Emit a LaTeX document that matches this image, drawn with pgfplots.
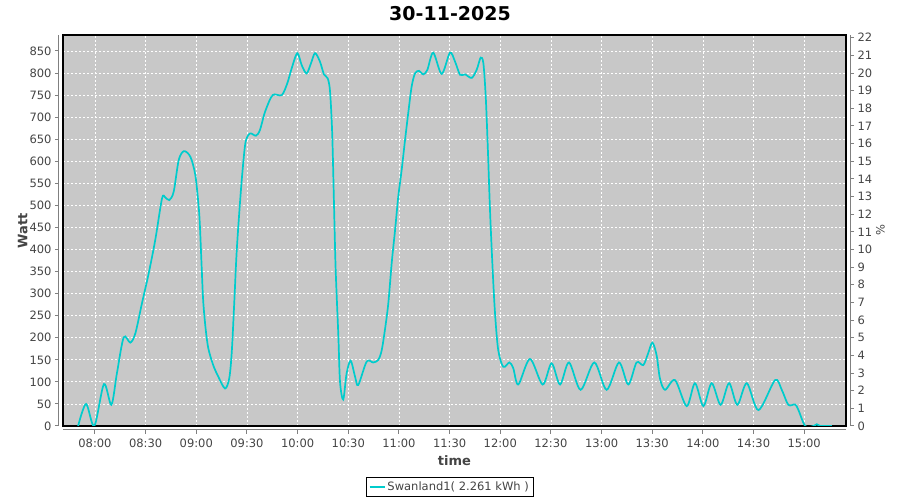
\documentclass[border=0pt]{standalone}
\usepackage{pgfplots}
\pgfplotsset{compat=1.18}
\usepackage{pgfplotstable}
\usepackage{fontspec}
\setmainfont{DejaVu Sans}
\definecolor{plotbg}{RGB}{200,200,200}
\definecolor{txtgray}{RGB}{68,68,68}
\definecolor{axgray}{RGB}{128,128,128}
\definecolor{cyanline}{RGB}{0,204,204}

\pgfplotstableread{
t w
470 0
474.7 50
479.6 0
485.3 95
489.7 48
493 120
497 201
500.9 189
503.9 210
507.8 278
511.8 346
515.7 422
519.7 516
521.6 518
524 512
526.6 531
529.6 603
532.7 623
536.5 610
539.4 569
541.4 497
542.2 448
543.2 357
544.1 282
545.5 221
547.1 176
550 138
553 112
557 85
559.5 108
561 168
562.5 282
563.9 395
565.9 508
567.5 584
569.2 644
571.8 663
575.3 658
577.7 671
580.7 712
585.2 750
590.6 750
593.9 777
596.5 811
599.8 845
602.4 818
605.3 799
607.9 822
610.3 845
613.2 826
615.6 797
617.8 788
619.2 758
620.5 660
621.5 508
622.5 357
624.1 206
625.1 100
627 60
629 119
631.4 148
634 112
635.9 93
640.9 146
644.8 144
647.8 150
649.8 172
651.7 218
653.7 278
655.7 369
657.7 444
659.6 520
661.6 580
663.6 648
665.5 709
667.5 769
669.5 799
671.9 805
674.4 797
676.8 807
680.3 846
685.3 798
690.2 846
693.2 826
696.2 796
699.1 797
703.1 789
706.1 808
708.4 835
710 822
711.4 746
712.6 633
714 482
715.5 354
716.9 255
718.8 172
721.8 134
725.4 144
727.7 131
730.7 94
737.6 152
745.1 94
750.4 142
755.4 94
760.7 144
767.6 82
775.7 144
783 82
790.3 144
795.8 94
800.7 144
804.7 138
807.6 165
810.1 189
812.6 160
814.6 107
817.6 82
823.5 104
830.4 45
835.3 97
840.3 45
845.2 97
850.5 48
855.5 97
860.4 48
866 97
872.9 36
882.7 104
886.7 82
890.6 48
894.6 49
896.6 36
900.6 0
905.5 0
907.5 4
909.5 0
916.4 0
}\datatable

\begin{document}
\begin{tikzpicture}[x=1pt,y=1pt]
\useasboundingbox (0pt,0pt) rectangle (900pt,500pt);
\pgfplotsset{
  common/.style={scale only axis, width=783pt, height=391pt,
    xmin=461.05, xmax=924.75,
    /pgf/number format/assume math mode=true,
    tick label style={font=\fontsize{11.5}{13}\selectfont, text=txtgray},
    label style={font=\fontsize{13}{15}\selectfont\bfseries, text=txtgray},
    axis line style={axgray, line width=1pt},
    tick style={axgray, line width=1pt},
    tick align=outside, major tick length=4pt,
  },
}
% x axis (offset)
\begin{axis}[common, at={(63pt,70pt)}, anchor=south west,
  ymin=0, ymax=1, axis x line*=bottom, axis y line=none,
  xtick={480,510,...,900},
  xticklabels={08:00,08:30,09:00,09:30,10:00,10:30,11:00,11:30,12:00,12:30,13:00,13:30,14:00,14:30,15:00},
  xticklabel style={yshift=-1pt},
  xlabel={time}, xlabel style={yshift=-2pt}]
\addplot[draw=none] coordinates {(470,0)};
\end{axis}
% left axis
\begin{axis}[common, at={(59pt,74pt)}, anchor=south west,
  ymin=0, ymax=886.2, axis y line*=left, axis x line=none,
  ytick={0,50,...,850}, ylabel={Watt}, ylabel style={yshift=-5pt}]
\addplot[draw=none] coordinates {(470,0)};
\end{axis}
% right axis
\begin{axis}[common, at={(850pt,74pt)}, anchor=south east,
  ymin=0, ymax=22.155, axis y line*=right, axis x line=none,
  ytick={0,1,...,22}, ylabel={\%},
  ylabel style={font=\fontsize{11.5}{13}\selectfont, text=txtgray, yshift=3pt}]
\addplot[draw=none] coordinates {(470,0)};
\end{axis}
% main plot area
\begin{axis}[common, at={(63pt,74pt)}, anchor=south west,
  ymin=0, ymax=886.2,
  axis background/.style={fill=plotbg},
  xtick={480,510,...,900}, ytick={0,50,...,850},
  xticklabels={}, yticklabels={}, major tick length=0pt,
  grid=major, grid style={white, line width=0.8pt, dash pattern=on 2pt off 2pt},
  axis line style={black, line width=1.2pt},
  legend style={at={(0.494,-0.156)}, anchor=center, draw=black, fill=white,
    font=\fontsize{11.5}{13}\selectfont, text=txtgray, inner sep=2.5pt, line width=0.8pt,
    legend cell align=left},
  legend image code/.code={\draw[#1] (0pt,0pt) -- (15pt,0pt);}]
\addplot[cyanline, line width=1.7pt, smooth, tension=0.5] table[x=t,y=w]{\datatable};
\addlegendentry{Swanland1( 2.261 kWh )}
\end{axis}
\node[font=\fontsize{19}{22}\selectfont\bfseries, text=black] at (450pt,486pt) {30-11-2025};
\end{tikzpicture}
\end{document}
